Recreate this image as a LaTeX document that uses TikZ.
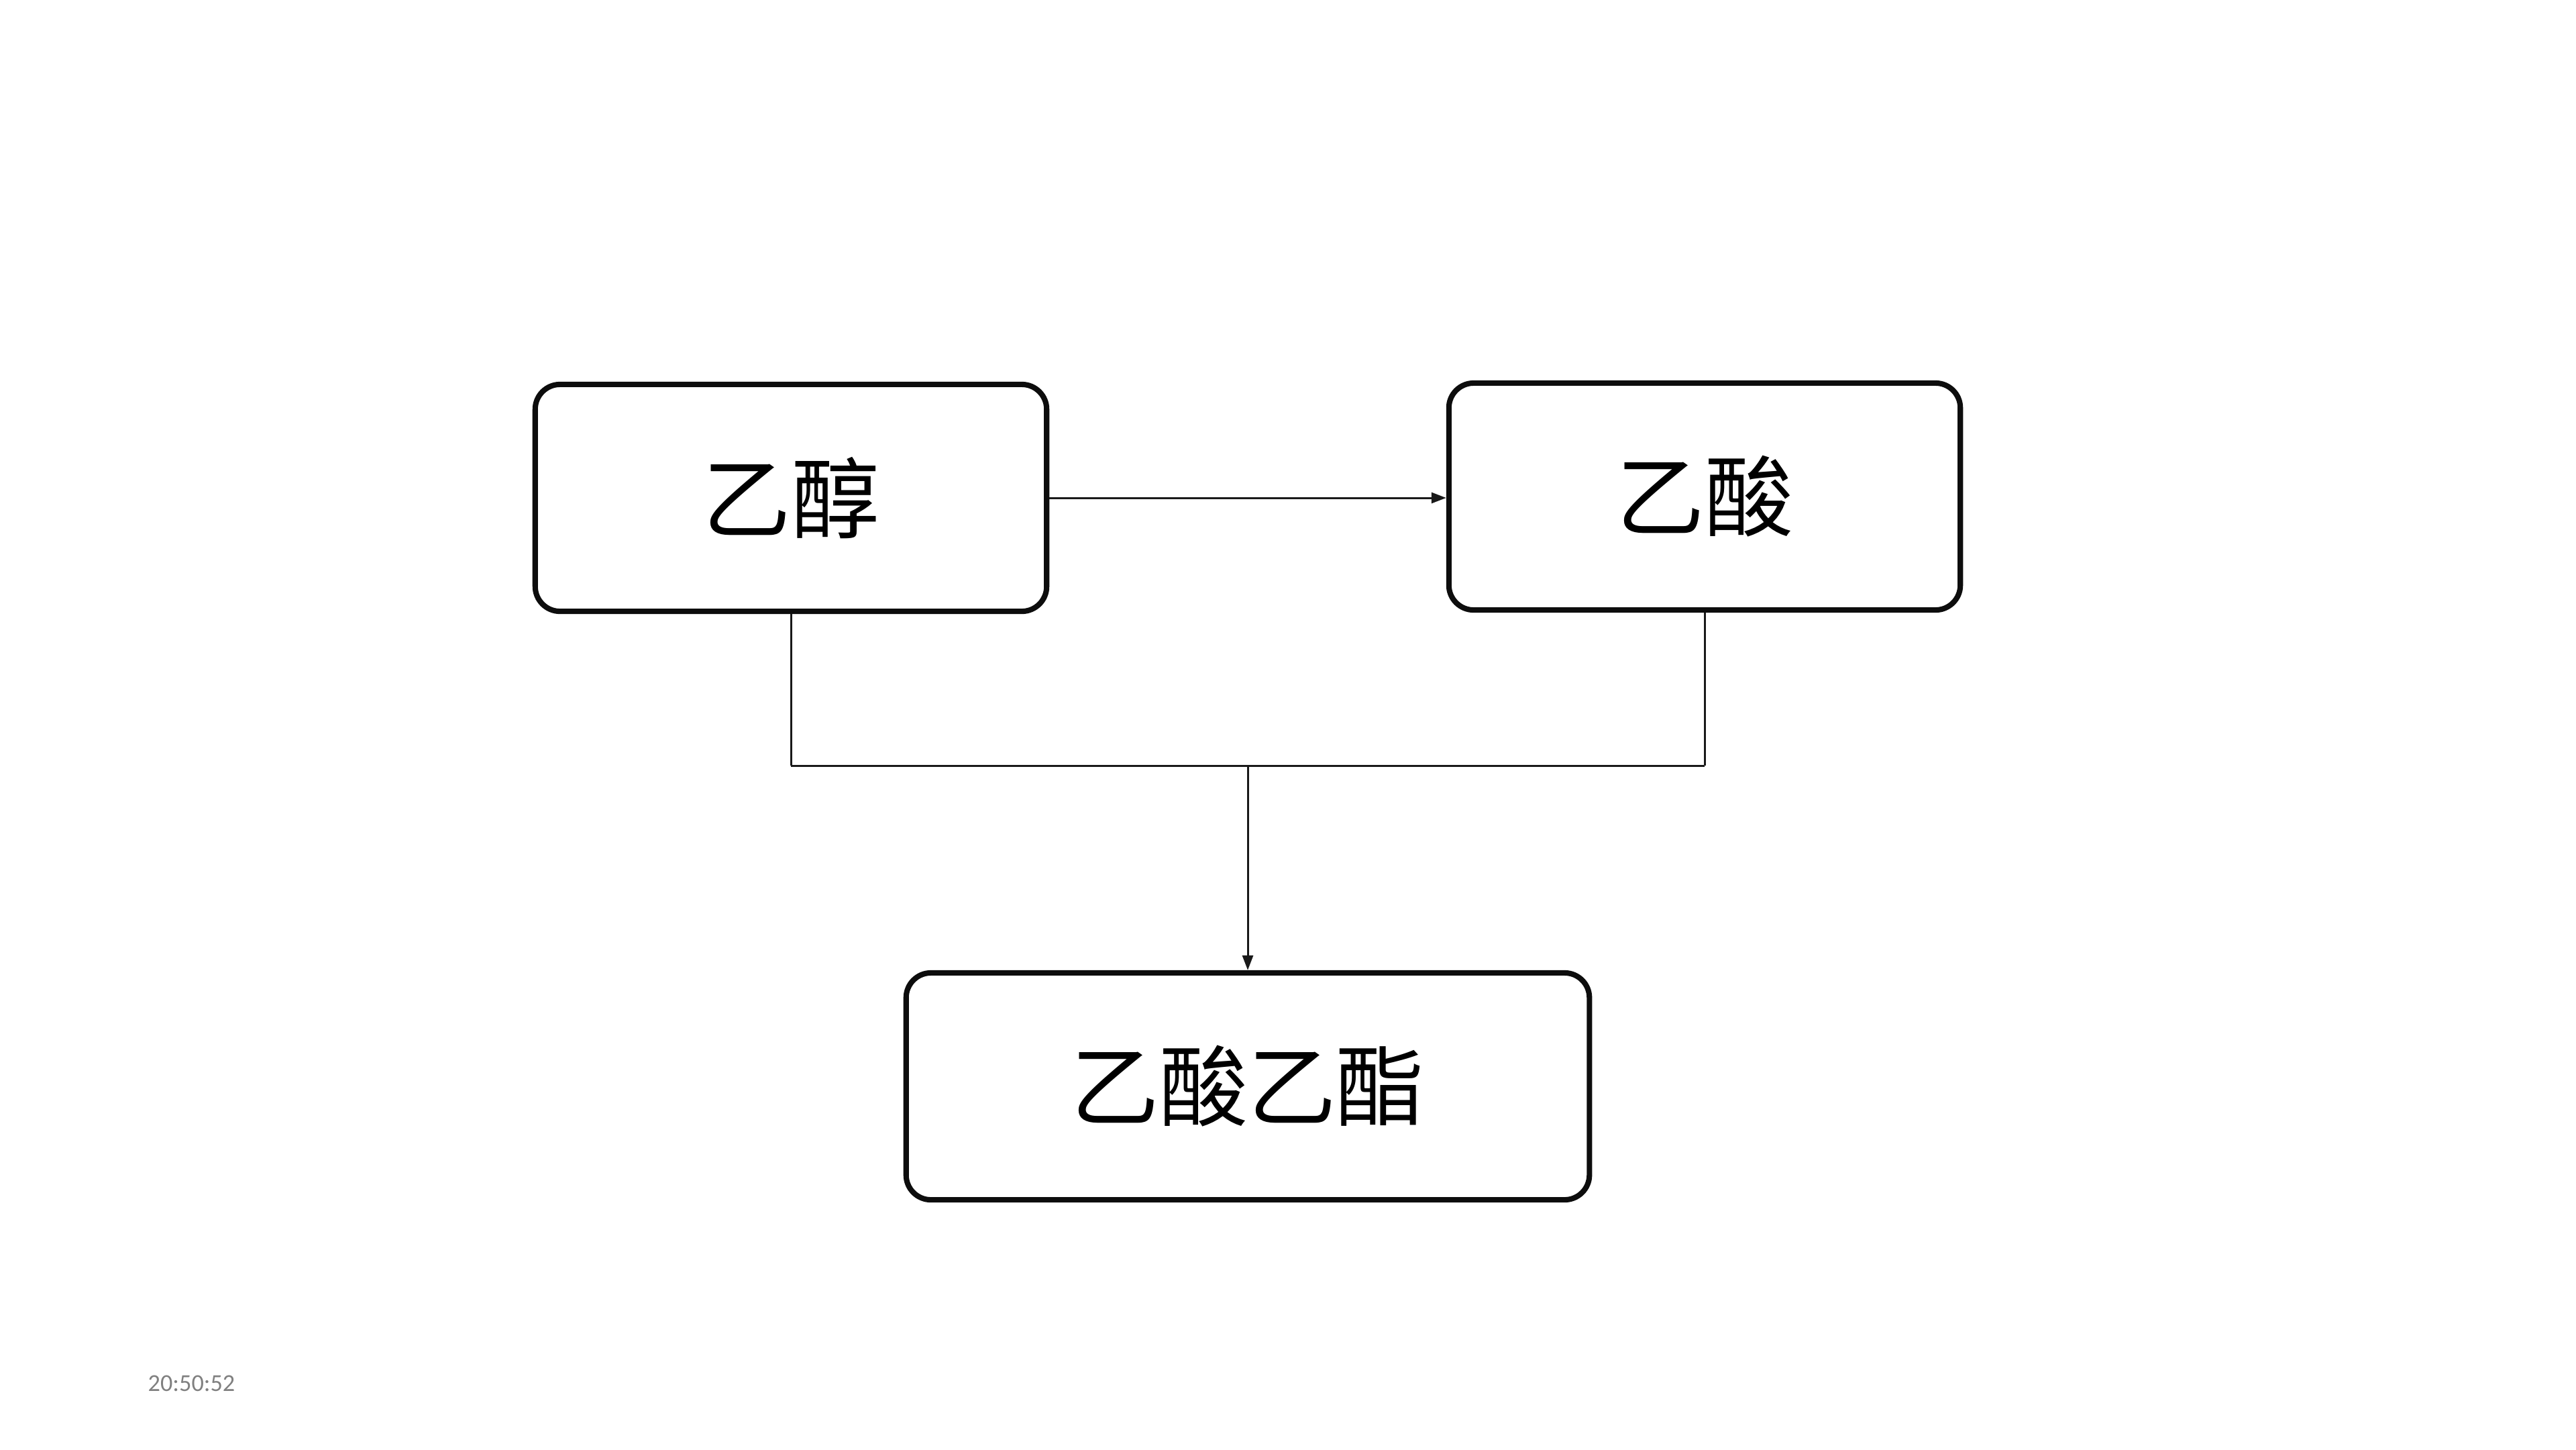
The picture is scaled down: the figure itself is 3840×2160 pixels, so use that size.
\documentclass[tikz,border=0pt]{standalone}
\usepackage{fontspec}
\newfontfamily\cjk{Noto Sans CJK SC}
\newfontfamily\stampfont{Carlito}
\usetikzlibrary{arrows.meta}
\begin{document}
\begin{tikzpicture}[x=0.01cm,y=-0.01cm,
  chem/.style={draw=black!95, line width=2.3pt, rounded corners=0.37cm, fill=white,
    minimum width=7.62cm, minimum height=3.38cm, inner sep=0pt,
    font=\cjk\fontsize{37.5}{42}\selectfont},
  conn/.style={draw=black!90, line width=0.85pt},
  arr/.style={conn, -{Triangle[length=0.22cm, width=0.16cm]}}]
\useasboundingbox (0,0) rectangle (3840,2160);
\node[chem] (a) at (1179,742) {乙醇};
\node[chem] (b) at (2541,740) {乙酸};
\node[chem, minimum width=10.18cm] (c) at (1860,1619) {乙酸乙酯};
\coordinate (j) at (1860,1141);
\draw[arr] (a.east) -- (b.west |- a.east);
\draw[conn] (a.south) -- (a.south |- j);
\draw[conn] (b.south) -- (b.south |- j);
\draw[conn] (a.south |- j) -- (b.south |- j);
\draw[arr] (j) -- (c.north);
\node[font=\stampfont\fontsize{10.3}{12}\selectfont, text=black!50, anchor=west, inner sep=0pt] (t) at (220,2062) {20:50:52};
\end{tikzpicture}
\end{document}
